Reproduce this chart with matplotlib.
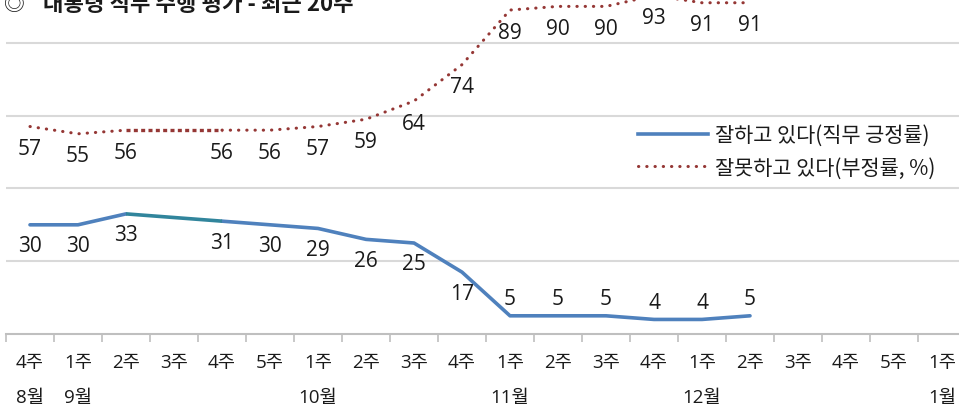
import numpy as np
import matplotlib
matplotlib.use("Agg")
import matplotlib.pyplot as plt
from matplotlib.lines import Line2D

plt.rcParams['font.family'] = ['Open Sans', 'Noto Sans CJK KR', 'DejaVu Sans']
CJK = ['Noto Sans CJK KR', 'DejaVu Sans']

weeks = ["4주", "1주", "2주", "3주", "4주", "5주", "1주", "2주", "3주", "4주",
         "1주", "2주", "3주", "4주", "1주", "2주", "3주", "4주", "5주", "1주"]
months = {0: "8월", 1: "9월", 6: "10월", 10: "11월", 14: "12월", 19: "1월"}
approve = [30, 30, 33, np.nan, 31, 30, 29, 26, 25, 17, 5, 5, 5, 4, 4, 5,
           np.nan, np.nan, np.nan, np.nan]
disapprove = [57, 55, 56, np.nan, 56, 56, 57, 59, 64, 74, 89, 90, 90, 93, 91, 91,
              np.nan, np.nan, np.nan, np.nan]
title_mark = "◎"
title = "대통령 직무 수행 평가 - 최근 20주"
label_approve = "잘하고 있다(직무 긍정률)"
label_disapprove = "잘못하고 있다(부정률, %)"

BLUE = "#4F81BD"
TEAL = "#31859C"
RED = "#953735"
TXT = "#1a1a1a"
W, H = 959, 410
px_per_unit = 3.64
base_y = 335

fig = plt.figure(figsize=(W / 100, H / 100), dpi=100)
ax = fig.add_axes([6 / W, (H - base_y) / H, 960 / W, 100 * px_per_unit / H])
x = np.arange(len(weeks))
ax.set_xlim(-0.5, len(weeks) - 0.5)
ax.set_ylim(0, 100)

for v in [20, 40, 60, 80]:
    ax.axhline(v, color="#D9D9D9", lw=1.5, zorder=0)

a = np.array(approve, dtype=float)
d = np.array(disapprove, dtype=float)
dot = (0, (0.1, 2.6))
ax.plot(x, a, color=BLUE, lw=2.6, solid_capstyle='round', solid_joinstyle='round', zorder=3)
ax.plot(x, d, color=RED, lw=2.2, linestyle=dot, dash_capstyle='round', zorder=3)
# gap segment (missing week) connecting neighbours
gi = [2, 4]
ax.plot(x[gi], a[gi], color=TEAL, lw=2.6, solid_capstyle='butt', zorder=3)
ax.plot(x[gi], d[gi], color=RED, lw=2.4, linestyle=(0, (1.2, 1.0)), dash_capstyle='butt', zorder=3)

lab_fs = 15
for i in range(len(weeks)):
    if not np.isnan(a[i]):
        off = 17 if a[i] < 10 else -21
        ax.annotate(f"{int(a[i])}", xy=(x[i], a[i]), xytext=(0, off), textcoords='offset pixels',
                    ha='center', va='center', fontsize=lab_fs, color=TXT, annotation_clip=False)
    if not np.isnan(d[i]):
        ax.annotate(f"{int(d[i])}", xy=(x[i], d[i]), xytext=(0, -22), textcoords='offset pixels',
                    ha='center', va='center', fontsize=lab_fs, color=TXT, annotation_clip=False)

for s in ['top', 'right', 'left']:
    ax.spines[s].set_visible(False)
ax.spines['bottom'].set_color('#BFBFBF')
ax.spines['bottom'].set_linewidth(1.5)
ax.set_yticks([])
ax.set_xticks(x)
ax.set_xticklabels(weeks, fontsize=13.5, color=TXT)
ax.tick_params(axis='x', which='major', length=0, pad=14)
ax.set_xticks(np.arange(-0.5, len(weeks), 1.0), minor=True)
ax.tick_params(axis='x', which='minor', length=6, width=1.2, color='#BFBFBF', direction='out')

for i, m in months.items():
    ax.annotate(m, xy=(x[i], 0), xycoords=('data', 'axes fraction'), xytext=(0, -63),
                textcoords='offset pixels', ha='center', va='center', fontsize=13.5,
                color=TXT, annotation_clip=False)

fig.text(4 / W, 1 - 11 / H, title_mark, fontsize=15, ha='left', va='baseline',
         color=TXT, family=CJK)
fig.text(43 / W, 1 - 11 / H, title, fontsize=16, fontweight='bold', ha='left', va='baseline',
         color=TXT, family=CJK)

handles = [Line2D([], [], color=BLUE, lw=2.6),
           Line2D([], [], color=RED, lw=2.2, linestyle=dot, dash_capstyle='round')]
leg = fig.legend(handles, [label_approve, label_disapprove], loc='upper left',
                 bbox_to_anchor=(638 / W, 1 - 125 / H), frameon=False,
                 prop={'family': CJK, 'size': 15},
                 handlelength=3.35, handletextpad=0.34, labelspacing=0.5, borderpad=0,
                 borderaxespad=0)
for t in leg.get_texts():
    t.set_color(TXT)

fig.savefig("out.png", dpi=100)
